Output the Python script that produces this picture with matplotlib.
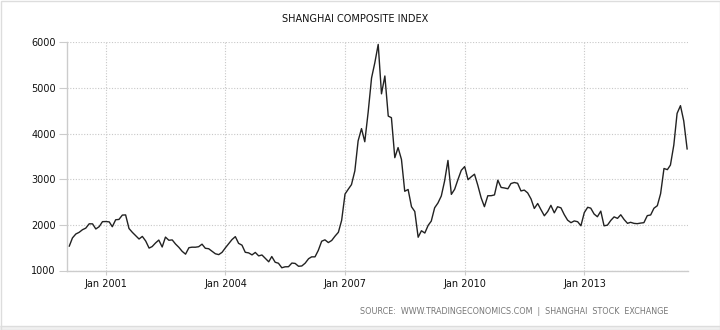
import pandas as pd
import matplotlib
matplotlib.use("Agg")
import matplotlib.pyplot as plt
import matplotlib.dates as mdates
from matplotlib.patches import Rectangle

# Shanghai Composite, monthly closes Jan 2000 - Jul 2015
closes = [
    1535, 1714, 1800, 1836, 1894, 1928, 2023, 2022, 1910, 1961, 2070, 2073,  # 2000
    2065, 1959, 2112, 2119, 2214, 2218, 1920, 1835, 1764, 1690, 1747, 1646,  # 2001
    1491, 1524, 1603, 1667, 1515, 1732, 1663, 1670, 1581, 1507, 1420, 1358,  # 2002
    1500, 1511, 1510, 1521, 1577, 1487, 1477, 1421, 1367, 1348, 1397, 1497,  # 2003
    1590, 1676, 1742, 1595, 1555, 1399, 1386, 1342, 1396, 1320, 1340, 1267,  # 2004
    1191, 1306, 1181, 1159, 1060, 1081, 1083, 1163, 1155, 1093, 1099, 1161,  # 2005
    1258, 1299, 1299, 1440, 1641, 1672, 1612, 1658, 1752, 1837, 2099, 2675,  # 2006
    2786, 2881, 3183, 3841, 4109, 3821, 4471, 5218, 5552, 5954, 4871, 5262,  # 2007
    4383, 4348, 3472, 3693, 3433, 2736, 2775, 2397, 2293, 1729, 1871, 1821,  # 2008
    1991, 2082, 2374, 2478, 2633, 2959, 3412, 2668, 2779, 2996, 3195, 3277,  # 2009
    2989, 3051, 3110, 2871, 2592, 2398, 2638, 2639, 2656, 2979, 2820, 2808,  # 2010
    2791, 2905, 2928, 2911, 2743, 2762, 2701, 2568, 2359, 2468, 2333, 2199,  # 2011
    2293, 2428, 2263, 2397, 2373, 2226, 2103, 2048, 2086, 2069, 1980, 2269,  # 2012
    2385, 2366, 2237, 2178, 2301, 1979, 1994, 2098, 2175, 2142, 2221, 2116,  # 2013
    2033, 2056, 2033, 2026, 2039, 2048, 2202, 2217, 2364, 2420, 2683, 3235,  # 2014
    3210, 3310, 3748, 4442, 4612, 4277, 3664,                                # 2015
]
dates = pd.date_range("2000-01-01", periods=len(closes), freq="MS") + pd.offsets.MonthEnd(0)

x_ticks = pd.to_datetime(["2001-01-01", "2004-01-01", "2007-01-01", "2010-01-01", "2013-01-01"])
y_ticks = [1000, 2000, 3000, 4000, 5000, 6000]

fig = plt.figure(figsize=(7.2, 3.3), dpi=100)
ax = fig.add_axes([67 / 720, 1 - 270.5 / 330, (688 - 67) / 720, (270.5 - 42.3) / 330])

ax.plot(dates, closes, color="#222222", lw=1.0)

ax.set_xlim(pd.Timestamp("2000-01-10"), pd.Timestamp("2015-08-08"))
ax.set_ylim(1000, 6000)
ax.set_xticks(x_ticks)
ax.xaxis.set_major_formatter(mdates.DateFormatter("%b %Y"))
ax.set_yticks(y_ticks)

ax.grid(True, color="#c8c8c8", ls=(0, (1, 1.5)), lw=0.8)
for s in ["top", "right"]:
    ax.spines[s].set_visible(False)
for s in ["left", "bottom"]:
    ax.spines[s].set_color("#cccccc")
    ax.spines[s].set_linewidth(1.0)
ax.tick_params(axis="y", length=6, color="#cccccc", labelsize=7, labelcolor="#111111", pad=2)
ax.tick_params(axis="x", length=3, color="#cccccc", labelsize=7, labelcolor="#111111", pad=3)

fig.text(355 / 720, 1 - 19 / 330, "SHANGHAI COMPOSITE INDEX", ha="center", va="center",
         fontsize=7.0, color="#111111", fontweight="medium")
fig.text(668 / 720, 1 - 311 / 330, "SOURCE:  WWW.TRADINGECONOMICS.COM  |  SHANGHAI  STOCK  EXCHANGE",
         ha="right", va="center", fontsize=5.75, color="#777777")

# light frame and bottom band
fig.patches.append(Rectangle((0, 0), 1, 4 / 330, transform=fig.transFigure,
                             facecolor="#f0f0f0", edgecolor="none"))
fig.patches.append(Rectangle((0.5 / 720, 0.5 / 330), 719 / 720, 329 / 330, transform=fig.transFigure,
                             facecolor="none", edgecolor="#dddddd", lw=1.0))
fig.patches.append(Rectangle((0, 4 / 330), 1, 0, transform=fig.transFigure,
                             facecolor="none", edgecolor="#dddddd", lw=1.0))

fig.savefig("out.png", dpi=100)
